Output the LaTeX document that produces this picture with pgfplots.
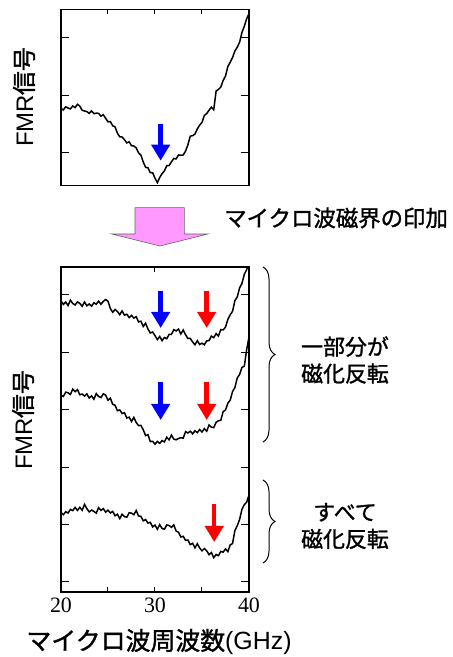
\documentclass[border=0pt]{standalone}
\usepackage{fontspec}
\setmainfont{Liberation Sans}
\newfontfamily\jp{Noto Sans CJK JP}[FakeBold=1.3]
\newfontfamily\tnr{Liberation Serif}
\usepackage{pgfplots}
\pgfplotsset{compat=1.18}
\usetikzlibrary{arrows.meta,decorations.pathreplacing}
\definecolor{pinkarrow}{RGB}{255,153,255}

\pgfplotstableread{
x y
20.00 77.2
20.25 75.8
20.50 78.9
20.75 77.6
21.00 76.8
21.25 79.7
21.50 78.1
21.75 81.4
22.00 79.6
22.25 75.4
22.50 74.7
22.75 74.1
23.00 72.3
23.25 74.8
23.50 72.1
23.75 72.5
24.00 72.4
24.25 69.5
24.50 71.0
24.75 67.4
25.00 63.9
25.25 64.1
25.50 59.9
25.75 58.8
26.00 52.6
26.25 48.9
26.50 48.7
26.75 46.0
27.00 42.8
27.25 43.9
27.50 40.0
27.75 39.7
28.00 37.8
28.25 32.8
28.50 30.6
28.75 23.7
29.00 18.4
29.25 17.9
29.50 13.0
29.75 12.9
30.00 7.5
30.25 3.1
30.50 8.1
30.75 12.0
31.00 14.8
31.25 20.0
31.50 20.1
31.75 23.9
32.00 27.2
32.25 26.8
32.50 30.7
32.75 30.4
33.00 30.7
33.25 34.6
33.50 40.9
33.75 49.5
34.00 50.0
34.25 51.6
34.50 56.7
34.75 60.6
35.00 63.3
35.25 70.3
35.50 72.1
35.75 75.5
36.00 78.5
36.25 76.0
36.50 94.6
36.75 96.3
37.00 98.6
37.25 105.2
37.50 109.7
37.75 119.1
38.00 123.4
38.25 128.2
38.50 134.7
38.75 138.5
39.00 143.4
39.25 153.3
39.50 159.4
39.75 166.9
40.00 172.0
}\topdata

\pgfplotstableread{
x y
20.00 291.0
20.25 287.5
20.50 290.0
20.75 286.5
21.00 291.8
21.25 288.5
21.50 287.0
21.75 290.1
22.00 288.6
22.25 285.7
22.50 290.0
22.75 286.2
23.00 288.0
23.25 285.8
23.50 289.2
23.75 287.8
24.00 290.8
24.25 287.7
24.50 290.6
24.75 292.5
25.00 290.8
25.25 283.5
25.50 279.7
25.75 282.5
26.00 280.5
26.25 277.3
26.50 281.1
26.75 276.8
27.00 277.8
27.25 274.4
27.50 276.5
27.75 273.9
28.00 275.3
28.25 270.1
28.50 270.8
28.75 265.5
29.00 268.8
29.25 263.0
29.50 259.0
29.75 260.0
30.00 256.3
30.25 252.4
30.50 255.5
30.75 251.3
31.00 254.5
31.25 253.3
31.50 257.6
31.75 257.7
32.00 262.4
32.25 261.1
32.50 262.9
32.75 258.0
33.00 262.0
33.25 257.3
33.50 253.6
33.75 253.6
34.00 250.1
34.25 247.2
34.50 251.3
34.75 247.5
35.00 248.8
35.25 247.2
35.50 251.2
35.75 251.3
36.00 255.9
36.25 254.3
36.50 258.4
36.75 256.0
37.00 262.4
37.25 262.1
37.50 264.9
37.75 272.6
38.00 277.2
38.25 280.7
38.50 291.4
38.75 295.1
39.00 304.1
39.25 308.5
39.50 317.7
39.75 322.2
40.00 330.0
}\curveA

\pgfplotstableread{
x y
20.00 196.5
20.25 195.6
20.50 199.8
20.75 199.2
21.00 197.5
21.25 202.9
21.50 200.3
21.75 202.3
22.00 197.2
22.25 198.0
22.50 195.9
22.75 198.1
23.00 194.0
23.25 196.1
23.50 192.8
23.75 198.4
24.00 195.5
24.25 194.4
24.50 198.2
24.75 196.8
25.00 191.8
25.25 193.8
25.50 187.7
25.75 186.7
26.00 181.3
26.25 182.1
26.50 178.5
26.75 179.3
27.00 174.0
27.25 174.8
27.50 170.5
27.75 174.6
28.00 169.5
28.25 166.4
28.50 166.6
28.75 162.2
29.00 156.4
29.25 157.4
29.50 150.4
29.75 150.7
30.00 147.8
30.25 150.6
30.50 148.6
30.75 151.4
31.00 150.1
31.25 154.7
31.50 152.2
31.75 156.8
32.00 152.9
32.25 152.2
32.50 153.5
32.75 154.3
33.00 153.8
33.25 160.4
33.50 159.0
33.75 160.8
34.00 158.2
34.25 161.2
34.50 159.4
34.75 162.5
35.00 160.0
35.25 163.4
35.50 160.8
35.75 167.0
36.00 164.8
36.25 164.4
36.50 169.6
36.75 171.3
37.00 171.7
37.25 180.4
37.50 182.0
37.75 188.8
38.00 191.8
38.25 200.5
38.50 204.4
38.75 214.0
39.00 217.5
39.25 224.6
39.50 225.7
39.75 242.3
40.00 255.0
}\curveB

\pgfplotstableread{
x y
20.00 79.4
20.25 77.3
20.50 80.3
20.75 79.0
21.00 82.6
21.25 81.4
21.50 84.6
21.75 81.6
22.00 84.7
22.25 81.7
22.50 87.6
22.75 83.4
23.00 80.1
23.25 81.9
23.50 80.6
23.75 78.9
24.00 84.3
24.25 81.6
24.50 83.4
24.75 79.8
25.00 81.8
25.25 79.0
25.50 80.6
25.75 76.2
26.00 77.8
26.25 73.4
26.50 77.8
26.75 75.4
27.00 74.8
27.25 79.2
27.50 78.9
27.75 77.3
28.00 81.5
28.25 76.0
28.50 75.7
28.75 71.2
29.00 72.4
29.25 68.9
29.50 69.7
29.75 65.1
30.00 66.9
30.25 62.7
30.50 67.3
30.75 63.6
31.00 62.8
31.25 67.0
31.50 66.5
31.75 64.7
32.00 67.1
32.25 60.9
32.50 59.8
32.75 55.0
33.00 55.7
33.25 51.7
33.50 52.0
33.75 47.4
34.00 48.7
34.25 44.1
34.50 48.3
34.75 44.0
35.00 41.2
35.25 43.5
35.50 41.2
35.75 37.3
36.00 39.4
36.25 34.3
36.50 37.5
36.75 36.3
37.00 40.6
37.25 39.8
37.50 43.1
37.75 40.4
38.00 47.0
38.25 48.5
38.50 61.5
38.75 66.2
39.00 72.6
39.25 82.6
39.50 87.3
39.75 89.8
40.00 97.0
}\curveC

\begin{document}
\begin{tikzpicture}
\useasboundingbox (0,0) rectangle (453bp,657bp);
\pgfplotsset{
  fmr/.style={
    scale only axis, width=188bp, xmin=20, xmax=40,
    axis line style={line width=1.2bp},
    every tick/.style={black, line width=1bp},
    major tick length=8bp,
    xtick style={/pgfplots/major tick length=5bp},
    ytick pos=both, yticklabels={},
    tick align=inside,
    /pgf/number format/assume math mode=true,
    xticklabel style={font=\tnr\fontsize{22}{22}\selectfont, yshift=-2bp},
  },
  sig/.style={black, line width=1.5bp, no marks},
}
% top panel
\begin{axis}[fmr, at={(61bp,471.3bp)}, anchor=south west, height=176.4bp,
  ymin=0, ymax=176.4, ytick={33.3,90.5,147.7},
  xtick={25,30,35}, xtick pos=right, xticklabels={}]
\addplot[sig] table {\topdata};
\draw[blue, line width=4.5bp, -{Triangle[width=18bp,length=16bp]}] (axis cs:30.6,62) -- (axis cs:30.6,25);
\end{axis}
% bottom panel
\begin{axis}[fmr, at={(61bp,65bp)}, anchor=south west, height=325bp,
  ymin=0, ymax=325, ytick={10,67.4,124.8,182.2,239.6,297},
  xtick={20,25,30,35,40}, xticklabels={20,,30,,40}, xtick pos=left,
  clip=true]
\addplot[sig] table {\curveA};
\addplot[sig] table {\curveB};
\addplot[sig] table {\curveC};
\draw[line width=1bp] (axis cs:30,325) -- (axis cs:30,320);
\draw[blue, line width=4.5bp, -{Triangle[width=18bp,length=16bp]}] (axis cs:30.6,301) -- (axis cs:30.6,264);
\draw[red, line width=4.5bp, -{Triangle[width=18bp,length=16bp]}] (axis cs:35.5,301) -- (axis cs:35.5,264);
\draw[blue, line width=4.5bp, -{Triangle[width=18bp,length=16bp]}] (axis cs:30.6,210) -- (axis cs:30.6,172);
\draw[red, line width=4.5bp, -{Triangle[width=18bp,length=16bp]}] (axis cs:35.5,210) -- (axis cs:35.5,172);
\draw[red, line width=4.5bp, -{Triangle[width=18bp,length=16bp]}] (axis cs:36.3,88) -- (axis cs:36.3,50);
\end{axis}
% pink arrow
\filldraw[fill=pinkarrow, draw=black!60, line width=0.6bp]
  (135bp,449.3bp) -- (184.3bp,449.3bp) -- (184.3bp,423bp) -- (208bp,423bp)
  -- (160bp,411bp) -- (111.7bp,423bp) -- (135bp,423bp) -- cycle;
\node[anchor=west, inner sep=0pt] at (224bp,439bp) {\jp\fontsize{22.5}{22.5}\selectfont マイクロ波磁界の印加};
% y labels
\node[rotate=90, inner sep=0pt] at (24bp,560bp) {\fontsize{24}{24}\selectfont FMR{\jp 信号}};
\node[rotate=90, inner sep=0pt] at (23bp,237bp) {\fontsize{24}{24}\selectfont FMR{\jp 信号}};
% x label
\node[inner sep=0pt] at (159bp,15bp) {\fontsize{25}{25}\selectfont{\jp マイクロ波周波数}(GHz)};
% braces
\draw[line width=1bp, decorate, decoration={brace, amplitude=12bp}] (263bp,390bp) -- (263bp,215bp);
\draw[line width=1bp, decorate, decoration={brace, amplitude=12bp}] (263bp,177bp) -- (263bp,94bp);
\node[align=center, inner sep=0pt, font=\jp\fontsize{22}{27}\selectfont] at (345bp,297bp) {一部分が\\磁化反転};
\node[align=center, inner sep=0pt, font=\jp\fontsize{22}{27}\selectfont] at (345bp,131bp) {すべて\\磁化反転};
\end{tikzpicture}
\end{document}
